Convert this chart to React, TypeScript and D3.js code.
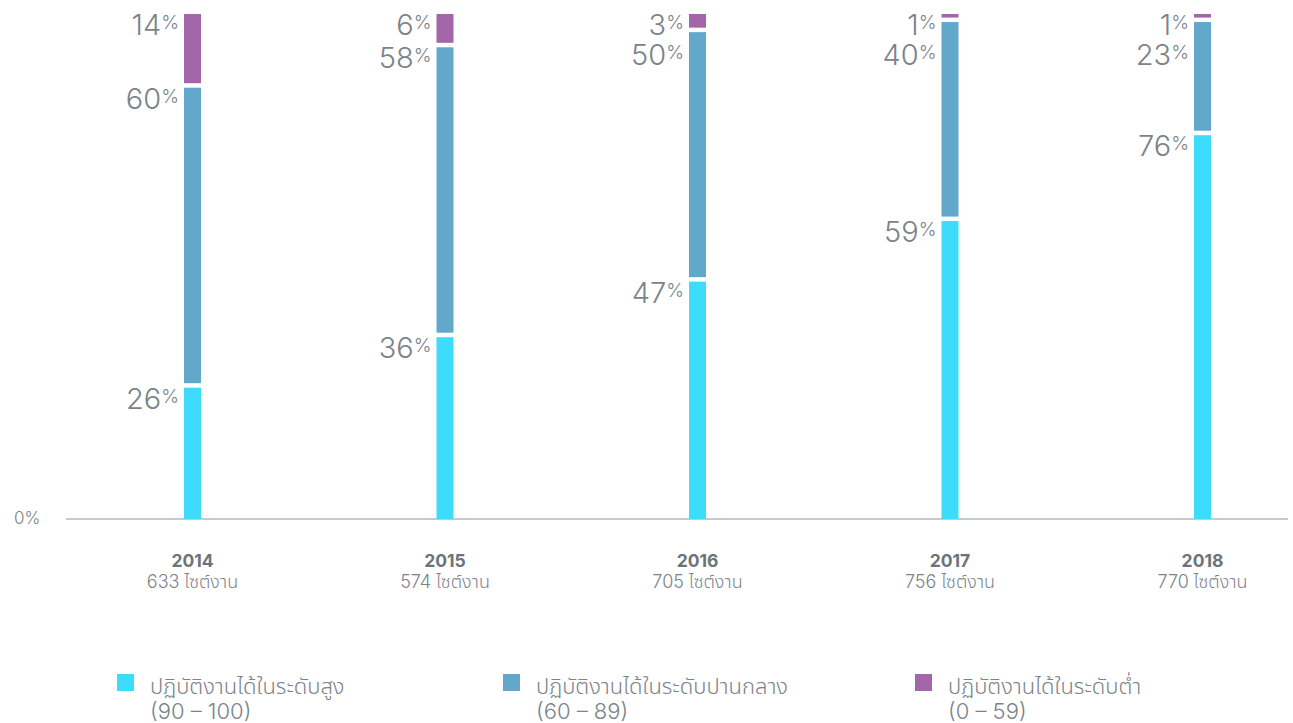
import React from "react";
import * as d3 from "d3";

const years = ["2014", "2015", "2016", "2017", "2018"];
const sites = ["633 ไซต์งาน", "574 ไซต์งาน", "705 ไซต์งาน", "756 ไซต์งาน", "770 ไซต์งาน"];
const high = [26, 36, 47, 59, 76];
const mid = [60, 58, 50, 40, 23];
const low = [14, 6, 3, 1, 1];
const seriesNames = ["ปฏิบัติงานได้ในระดับสูง", "ปฏิบัติงานได้ในระดับปานกลาง", "ปฏิบัติงานได้ในระดับต่ำ"];
const seriesRanges = ["(90 – 100)", "(60 – 89)", "(0 – 59)"];
const colors = ["#3ddcfd", "#61a8cb", "#a266a9"];

const W = 1293, H = 723;
const FONT = "Inter, 'Noto Sans Thai', 'Noto Sans', sans-serif";
const TXT = "#7b8389";

export default function App() {
  const x = d3.scalePoint<string>().domain(years).range([192.5, 1202.5]);
  const y = d3.scaleLinear().domain([0, 100]).range([519, 14]);
  const barW = 17;
  const series = [high, mid, low];

  return (
    <svg width={W} height={H} style={{ position: "absolute", left: 0, top: 0, fontFamily: FONT }}>
      <line x1={66} x2={1288} y1={519} y2={519} stroke="#b3b8bb" strokeWidth={1.5} />
      <text x={14} y={524} fontSize={17} fill={TXT} fontWeight={300}>0%</text>
      {years.map((yr, i) => {
        const cx = x(yr)!;
        let cum = 0;
        const segs = series.map((s, k) => {
          const v0 = cum;
          const v1 = cum + s[i];
          cum = v1;
          let top = y(v1);
          let bot = y(v0);
          if (k === 1) { top += 3; bot -= 4.5; }
          if (k === 2) { bot -= 1.5; }
          return { k, v: s[i], top, bot, labelTop: 0 };
        });
        let prev = -Infinity;
        for (let k = segs.length - 1; k >= 0; k--) {
          const t = Math.max(segs[k].top, prev + 29.5);
          segs[k].labelTop = t;
          prev = t;
        }
        return (
          <g key={yr}>
            {segs.map((sg) => (
              <g key={sg.k}>
                <rect x={cx - barW / 2} y={sg.top} width={barW} height={Math.max(0, sg.bot - sg.top)} fill={colors[sg.k]} />
                <text x={cx - barW / 2 - 5} y={sg.labelTop + 21} textAnchor="end" fill={TXT} fontWeight={300}>
                  <tspan fontSize={29}>{sg.v}</tspan>
                  <tspan fontSize={19} dy={-6}>%</tspan>
                </text>
              </g>
            ))}
            <text x={cx} y={567} textAnchor="middle" fontSize={17.5} fontWeight={700} fill="#6c747a">{yr}</text>
            <text x={cx} y={588} textAnchor="middle" fontSize={18} fontWeight={300} fill={TXT}>{sites[i]}</text>
          </g>
        );
      })}
      {seriesNames.map((nm, k) => {
        const lx = [117, 503, 915][k];
        return (
          <g key={nm}>
            <rect x={lx} y={674} width={17} height={17} fill={colors[k]} />
            <text x={lx + 33} y={694} fontSize={22} fontWeight={300} fill={TXT}>{nm}</text>
            <text x={lx + 33} y={719} fontSize={22} fontWeight={300} fill={TXT}>{seriesRanges[k]}</text>
          </g>
        );
      })}
    </svg>
  );
}
